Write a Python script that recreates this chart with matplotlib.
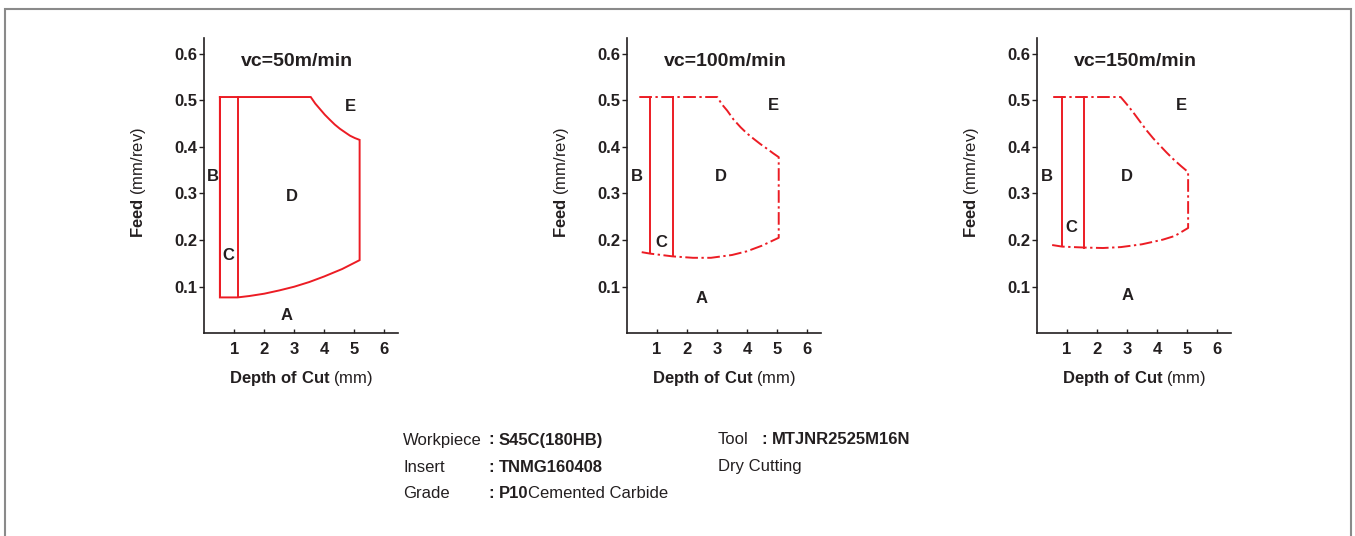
import matplotlib
matplotlib.use("Agg")
import matplotlib.pyplot as plt
from matplotlib.patches import Rectangle

plt.rcParams['font.family'] = ['Liberation Sans', 'DejaVu Sans']
plt.rcParams['mathtext.fontset'] = 'custom'
plt.rcParams['mathtext.rm'] = 'Liberation Sans'
plt.rcParams['mathtext.bf'] = 'Liberation Sans:bold'
plt.rcParams['mathtext.it'] = 'Liberation Sans:italic'

# ---------------- data ----------------
titles = ["vc=50m/min", "vc=100m/min", "vc=150m/min"]
solid_boundary = [True, False, False]

top_y = 0.507
top_x_start = [0.52, 0.41, 0.54]

vline1_x = [0.52, 0.77, 0.836]
vline1_ybot = [0.077, 0.172, 0.187]
vline2_x = [1.11, 1.53, 1.58]
vline2_ybot = [0.077, 0.165, 0.184]

upper_x = [
    [3.55, 3.70, 3.86, 4.02, 4.19, 4.35, 4.52, 4.70, 4.86, 5.02, 5.18],
    [3.01, 3.17, 3.34, 3.55, 3.79, 4.00, 4.23, 4.45, 4.67, 4.88, 5.06],
    [2.79, 3.00, 3.21, 3.44, 3.66, 3.88, 4.10, 4.32, 4.54, 4.80, 5.04],
]
upper_y = [
    [0.507, 0.493, 0.481, 0.469, 0.458, 0.448, 0.439, 0.431, 0.424, 0.419, 0.415],
    [0.507, 0.491, 0.478, 0.459, 0.442, 0.429, 0.417, 0.406, 0.396, 0.386, 0.378],
    [0.507, 0.491, 0.474, 0.454, 0.435, 0.418, 0.403, 0.388, 0.374, 0.359, 0.346],
]

lower_x = [
    [0.52, 1.11, 1.5, 2.0, 2.5, 3.0, 3.5, 4.0, 4.6, 5.18],
    [0.41, 0.77, 1.53, 2.2, 2.8, 3.5, 4.0, 4.5, 5.06],
    [0.45, 0.84, 1.58, 2.2, 2.8, 3.5, 4.2, 4.6, 5.04],
]
lower_y = [
    [0.077, 0.077, 0.080, 0.085, 0.092, 0.100, 0.110, 0.122, 0.138, 0.157],
    [0.175, 0.171, 0.165, 0.162, 0.162, 0.168, 0.176, 0.188, 0.205],
    [0.190, 0.186, 0.184, 0.183, 0.185, 0.191, 0.201, 0.209, 0.226],
]

region_labels = ["A", "B", "C", "D", "E"]
label_x = [
    [2.74, 0.30, 0.81, 2.91, 4.86],
    [2.50, 0.33, 1.15, 3.13, 4.88],
    [3.03, 0.32, 1.14, 2.99, 4.82],
]
label_y = [
    [0.038, 0.337, 0.168, 0.294, 0.487],
    [0.075, 0.337, 0.195, 0.337, 0.488],
    [0.082, 0.337, 0.227, 0.337, 0.488],
]
title_x = [3.08, 3.28, 3.27]
title_y = 0.583

x_ticks = [1, 2, 3, 4, 5, 6]
y_ticks = [0.1, 0.2, 0.3, 0.4, 0.5, 0.6]
y_tick_labels = ["0.1", "0.2", "0.3", "0.4", "0.5", "0.6"]

info_names_left = ["Workpiece", "Insert", "Grade"]
info_values_left = ["S45C(180HB)", "TNMG160408", "P10"]
info_suffix_left = ["", "", "Cemented Carbide"]
info_names_right = ["Tool", "Dry Cutting"]
info_values_right = ["MTJNR2525M16N", None]

# ---------------- styling ----------------
W, H = 1355, 536
RED = '#ec1c24'
DARK = '#231f20'
DASHDOT = (0, (6.5, 1.8, 1.2, 1.8))
LW = 1.4

fig = plt.figure(figsize=(W / 100, H / 100), dpi=100)

# figure frame (open at the bottom)
fig.add_artist(Rectangle((5.5 / W, -0.05), (1351 - 5.5) / W, 1.05 - 8.5 / H,
                         transform=fig.transFigure, fill=False,
                         edgecolor='#8a8a8a', linewidth=1.5))

ax_left_px = [204.3, 627.0, 1037.0]
ax_w_px = 194.0
ax_bottom_px = 333.3
ax_top_px = 38.3

for i in range(3):
    ax = fig.add_axes([ax_left_px[i] / W, (H - ax_bottom_px) / H,
                       ax_w_px / W, (ax_bottom_px - ax_top_px) / H])
    ax.set_xlim(0, 6.47)
    ax.set_ylim(0, 0.633)
    for s in ['top', 'right']:
        ax.spines[s].set_visible(False)
    for s in ['left', 'bottom']:
        ax.spines[s].set_color(DARK)
        ax.spines[s].set_linewidth(1.2)
    ax.set_xticks(x_ticks)
    ax.set_xticklabels([str(t) for t in x_ticks], fontweight='bold', fontsize=12, color=DARK)
    ax.set_yticks(y_ticks)
    ax.set_yticklabels(y_tick_labels, fontweight='bold', fontsize=12, color=DARK)
    ax.tick_params(axis='x', direction='in', length=3, width=1, pad=6, color=DARK)
    ax.tick_params(axis='y', direction='out', length=3.5, width=1, pad=1.5, color=DARK)

    ls = '-' if solid_boundary[i] else DASHDOT
    # outer boundary: top line -> upper curve -> right edge -> lower curve
    bx = [top_x_start[i]] + upper_x[i] + lower_x[i][::-1]
    by = [top_y] + upper_y[i] + lower_y[i][::-1]
    if solid_boundary[i]:
        bx = bx + [vline1_x[i]]
        by = by + [top_y]
    ax.plot(bx, by, color=RED, lw=LW, linestyle=ls, solid_joinstyle='miter')
    # vertical separators (solid)
    ax.plot([vline1_x[i], vline1_x[i]], [top_y, vline1_ybot[i]], color=RED, lw=LW)
    ax.plot([vline2_x[i], vline2_x[i]], [top_y, vline2_ybot[i]], color=RED, lw=LW)

    for lab, lx, ly in zip(region_labels, label_x[i], label_y[i]):
        ax.text(lx, ly, lab, fontsize=12, fontweight='bold', color=DARK,
                ha='center', va='center')
    ax.text(title_x[i], title_y, titles[i], fontsize=14, fontweight='bold',
            color=DARK, ha='center', va='center')

    ax.text(0.5, -0.153, r"$\mathbf{Depth\ of\ Cut}$ (mm)", transform=ax.transAxes,
            fontsize=12, color=DARK, ha='center', va='center')
    ax.text(-0.337, 0.51, r"$\mathbf{Feed}$ (mm/rev)", transform=ax.transAxes,
            fontsize=12, color=DARK, ha='center', va='center', rotation=90)

# info block
info_rows_y = [440, 467, 494]
for k in range(3):
    yy = 1 - info_rows_y[k] / H
    fig.text(403 / W, yy, info_names_left[k], fontsize=12, color=DARK, va='center', ha='left')
    fig.text(488 / W, yy, ":", fontsize=12, fontweight='bold', color=DARK, va='center', ha='left')
    t = fig.text(499 / W, yy, info_values_left[k], fontsize=12, fontweight='bold',
                 color=DARK, va='center', ha='left')
    if info_suffix_left[k]:
        fig.add_artist(plt.Annotation(info_suffix_left[k], xy=(1, 0), xycoords=t,
                                      fontsize=12, color=DARK, va='bottom', ha='left'))
for k in range(2):
    yy = 1 - info_rows_y[k] / H
    fig.text(718 / W, yy, info_names_right[k], fontsize=12, color=DARK, va='center', ha='left')
    if info_values_right[k]:
        fig.text(761 / W, yy, ":", fontsize=12, fontweight='bold', color=DARK, va='center', ha='left')
        fig.text(772 / W, yy, info_values_right[k], fontsize=12, fontweight='bold',
                 color=DARK, va='center', ha='left')

fig.savefig("out.png", dpi=100)
